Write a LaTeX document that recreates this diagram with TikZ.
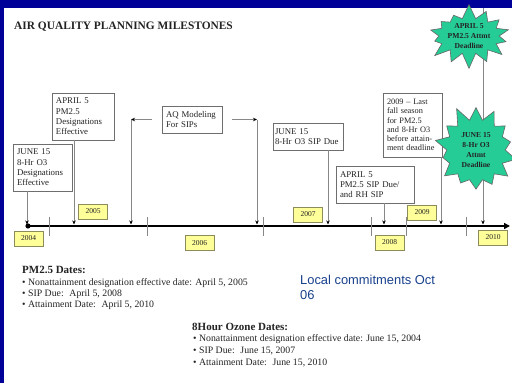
\documentclass[tikz,border=0pt]{standalone}
\usepackage{fontspec}
\setmainfont{Liberation Serif}
\newfontfamily\arialf{Liberation Sans}
\usetikzlibrary{shapes.symbols,arrows.meta}
\definecolor{frameblue}{RGB}{0,0,153}
\definecolor{boxgray}{RGB}{110,110,110}
\definecolor{linegray}{RGB}{135,135,135}
\definecolor{yrfill}{RGB}{255,255,153}
\definecolor{yrdraw}{RGB}{140,140,90}
\definecolor{stargreen}{RGB}{38,204,150}
\definecolor{localblue}{RGB}{25,65,140}
\definecolor{txt}{RGB}{35,35,35}
\begin{document}
\begin{tikzpicture}[x=1pt,y=-1pt,
  box/.style={draw=boxgray,line width=0.8pt,fill=white,align=left,inner xsep=4pt,inner ysep=0pt,text=txt,font=\fontsize{8.8}{10.3}\selectfont},
  yr/.style={draw=yrdraw,line width=0.8pt,fill=yrfill,minimum width=29pt,minimum height=15pt,inner sep=0pt,text=txt,font=\fontsize{7.5}{9}\selectfont},
  conn/.style={draw=linegray,line width=0.8pt,-{Stealth[length=4pt,width=3.5pt,black]}},
  tickline/.style={draw=linegray,line width=0.8pt},
  burst/.style={starburst,starburst points=14,starburst point height=15pt,fill=stargreen,draw=black!60,line width=0.6pt,align=center,inner sep=0pt,text=txt,font=\bfseries\fontsize{7.6}{10}\selectfont},
  plain/.style={anchor=base west,inner sep=0pt,text=txt},
  bul/.style={plain,font=\fontsize{9.8}{11}\selectfont},
  hdr/.style={plain,font=\bfseries\fontsize{11}{13}\selectfont}
]
\useasboundingbox (0,0) rectangle (512,383);
\fill[white] (0,0) rectangle (512,383);
\fill[frameblue] (0,0) rectangle (512,7.5);
\fill[frameblue] (0,0) rectangle (3.5,383);

\node[plain,font=\bfseries\fontsize{11.4}{13}\selectfont] (title) at (14,29.5) {AIR QUALITY PLANNING MILESTONES};

% axis
\coordinate (ax0) at (28,226);
\coordinate (ax1) at (510,226);
\draw[line width=2.5pt,-{Triangle[length=6pt,width=6pt]}] (ax0) -- (ax1);
\fill (ax0) circle (2.6pt);
\foreach \x in {49,147,263,371,406,466} \draw[tickline] (\x,217) -- (\x,236);

% targets on axis
\coordinate (t1) at (27,224.5);
\coordinate (t2) at (74,224.5);
\coordinate (t3) at (131,224.5);
\coordinate (t4) at (257,224.5);
\coordinate (t5) at (328,224.5);
\coordinate (t6) at (384,224.5);
\coordinate (t7) at (441,224.5);
\coordinate (t8) at (483,224.5);
\coordinate (top) at (483,7.5);

% boxes
\node[box,text width=51pt,minimum height=47pt] (b1) at (42.5,167.5) {JUNE 15\\8-Hr O3\\Designations\\Effective};
\node[box,text width=54pt,minimum height=47pt] (b2) at (83,116.5) {APRIL 5\\PM2.5\\Designations\\Effective};
\node[box,text width=52pt,minimum height=27pt] (b3) at (192,119.5) {AQ Modeling\\For SIPs};
\node[box,text width=66pt,inner xsep=2pt,minimum height=27pt] (b4) at (308,136.5) {JUNE 15\\8-Hr O3 SIP Due};
\node[box,text width=51pt,minimum height=64pt,font=\fontsize{8.3}{9.3}\selectfont] (b5) at (412.5,125) {2009 -- Last\\fall season\\for PM2.5\\and 8-Hr O3\\before attain-\\ment deadline};
\node[box,text width=70pt,minimum height=37pt] (b6) at (375,184.5) {APRIL 5\\PM2.5 SIP Due/\\and RH SIP};

% connectors
\draw[conn] (t1 |- b1.south) -- (t1);
\draw[conn] (t2 |- b2.south) -- (t2);
\coordinate (c3) at (t3 |- b3.west);
\coordinate (c4) at (t4 |- b3.east);
\draw[conn] ([xshift=-10pt]b3.west) -- (c3);
\draw[conn] (c3) -- (t3);
\draw[conn] ([xshift=10pt]b3.east) -- (c4);
\draw[conn] (c4) -- (t4);
\draw[conn] (t5 |- b4.south) -- (t5);
\draw[conn] (t6 |- b6.south) -- (t6);
\draw[conn] (t7 |- b5.south) -- (t7);
\draw[conn] (top) -- (t8);

% stars
\node[burst,random starburst=7] (s1) at (469,36) {APRIL 5\\PM2.5 Attmt\\Deadline};
\node[burst,random starburst=11,inner xsep=6pt,inner ysep=4pt,starburst point height=16pt] (s2) at (476,150) {JUNE 15\\8-Hr O3\\Attmt\\Deadline};

% years
\node[yr] (y2004) at (28.5,238.5) {2004};
\node[yr] (y2005) at (93,211.5) {2005};
\node[yr] (y2006) at (199.5,243) {2006};
\node[yr] (y2007) at (308,214.5) {2007};
\node[yr] (y2008) at (389.5,242.5) {2008};
\node[yr] (y2009) at (422,212.5) {2009};
\node[yr] (y2010) at (493,237.5) {2010};

% PM2.5 dates
\node[hdr] (pmh) at (22,273) {PM2.5 Dates:};
\node[bul] (pm1) at (22,285) {• Nonattainment designation effective date: April 5, 2005};
\node[bul] (pm2) at (22,296) {• SIP Due:~ April 5, 2008};
\node[bul] (pm3) at (22,307) {• Attainment Date:~ April 5, 2010};

% Ozone dates
\node[hdr] (ozh) at (192,330) {8Hour Ozone Dates:};
\node[bul] (oz1) at (193,341) {• Nonattainment designation effective date: June 15, 2004};
\node[bul] (oz2) at (193,353) {• SIP Due:~ June 15, 2007};
\node[bul] (oz3) at (193,365) {• Attainment Date:~ June 15, 2010};

% local commitments
\node[plain,font=\arialf\fontsize{12.9}{15}\selectfont,text=localblue] (loc1) at (300,284) {Local commitments Oct};
\node[plain,font=\arialf\fontsize{12.9}{15}\selectfont,text=localblue] (loc2) at (300,299) {06};
\end{tikzpicture}
\end{document}
